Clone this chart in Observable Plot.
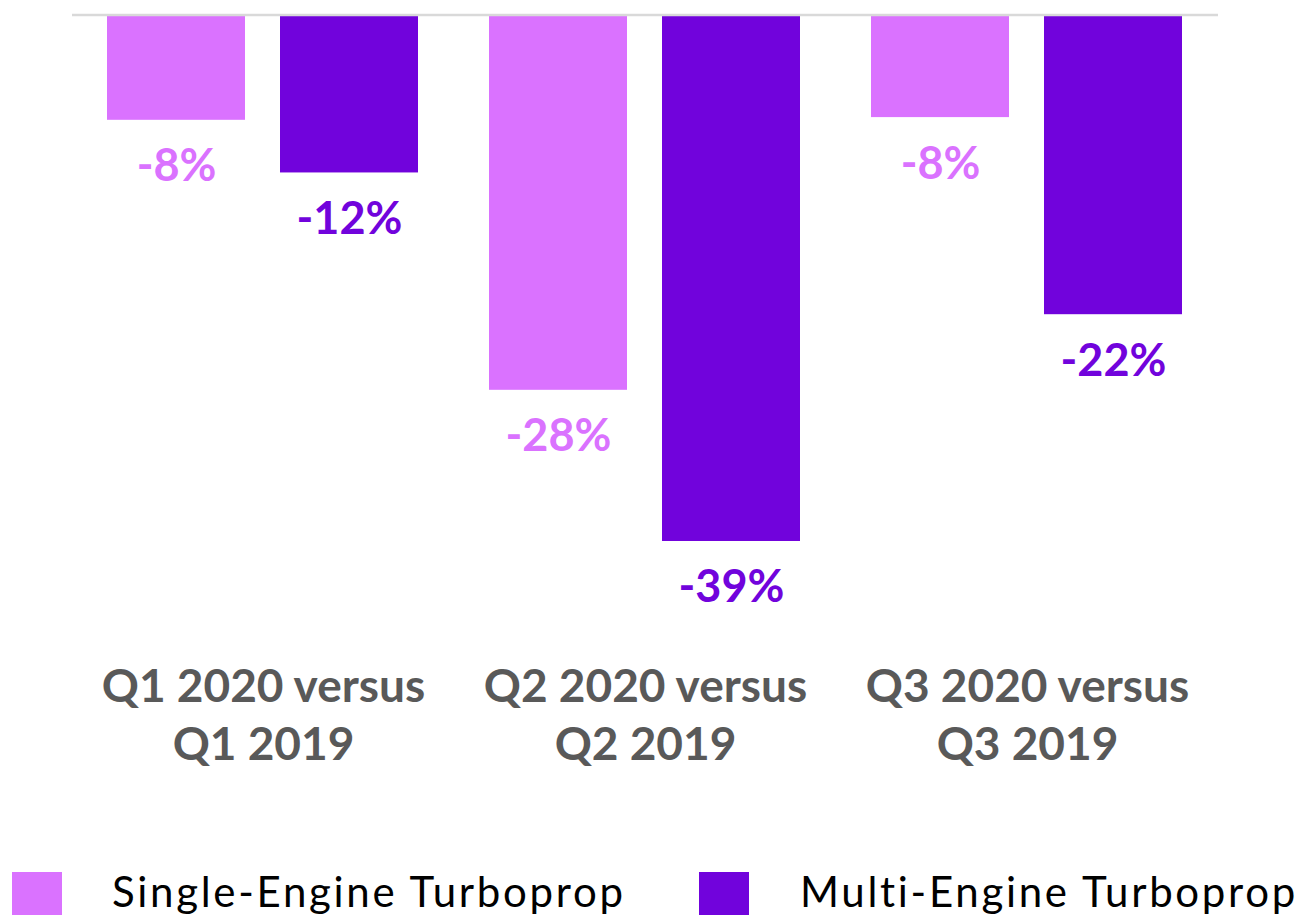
<!DOCTYPE html>
<html>
<head>
<meta charset="utf-8">
<script src="https://cdn.jsdelivr.net/npm/d3@7"></script>
<script src="https://cdn.jsdelivr.net/npm/@observablehq/plot@0.6"></script>
<style>
  html, body { margin: 0; padding: 0; background: #fff; overflow: hidden; }
  #chart svg { display: block; }
  #legend { position: relative; height: 55px; font-family: Lato, "Open Sans", sans-serif; color: #000; }
  .sw { position: absolute; width: 50px; height: 48px; }
  .lt { position: absolute; font-size: 42px; line-height: 1; white-space: nowrap; letter-spacing: 2.7px; }
</style>
</head>
<body>
<div id="chart"></div>
<div id="legend"></div>
<script>
const quarters = ["Q1 2020 versus\nQ1 2019", "Q2 2020 versus\nQ2 2019", "Q3 2020 versus\nQ3 2019"];
const series = ["Single-Engine Turboprop", "Multi-Engine Turboprop"];
const singleEngine = [-7.8, -27.8, -7.6];
const multiEngine = [-11.7, -39.0, -22.2];
const colors = ["#da72ff", "#7103dc"];

const data = quarters.flatMap((q, i) => [
  {q, s: series[0], v: singleEngine[i]},
  {q, s: series[1], v: multiEngine[i]}
]);

const H = 860;
const chart = Plot.plot({
  width: 1304,
  height: H,
  marginLeft: 72,
  marginRight: 86,
  marginTop: 14.5,
  marginBottom: H - 554.5,
  fx: {domain: quarters, padding: 0, label: null},
  x: {domain: series, padding: 0.2, axis: null},
  y: {domain: [-40, 0], axis: null},
  color: {domain: series, range: colors},
  style: {fontFamily: "Lato, 'Open Sans', sans-serif", background: "white"},
  marks: [
    Plot.barY(data, {fx: "q", x: "s", y: "v", fill: "s"}),
    Plot.ruleY([0], {stroke: "#d9d9d9", strokeWidth: 2.5}),
    Plot.text(data, {
      fx: "q", x: "s", y: "v",
      text: d => `-${Math.abs(Math.round(d.v))}%`,
      fill: "s", lineAnchor: "top", dy: 29,
      fontSize: 45, fontWeight: "bold"
    }),
    Plot.axisFx({
      anchor: "bottom", tickSize: 0, tickPadding: 106,
      fontSize: 46, fontWeight: "bold", color: "#595959",
      label: null, lineHeight: 1.26
    })
  ]
});
document.getElementById("chart").appendChild(chart);

const legend = document.getElementById("legend");
const legendX = [{sw: 12, tx: 112}, {sw: 699, tx: 800}];
series.forEach((s, i) => {
  const sw = document.createElement("div");
  sw.className = "sw";
  sw.style.left = legendX[i].sw + "px";
  sw.style.top = "12px";
  sw.style.background = colors[i];
  legend.appendChild(sw);
  const t = document.createElement("div");
  t.className = "lt";
  t.style.left = legendX[i].tx + "px";
  t.style.top = "10px";
  t.textContent = s;
  legend.appendChild(t);
});
</script>
</body>
</html>
